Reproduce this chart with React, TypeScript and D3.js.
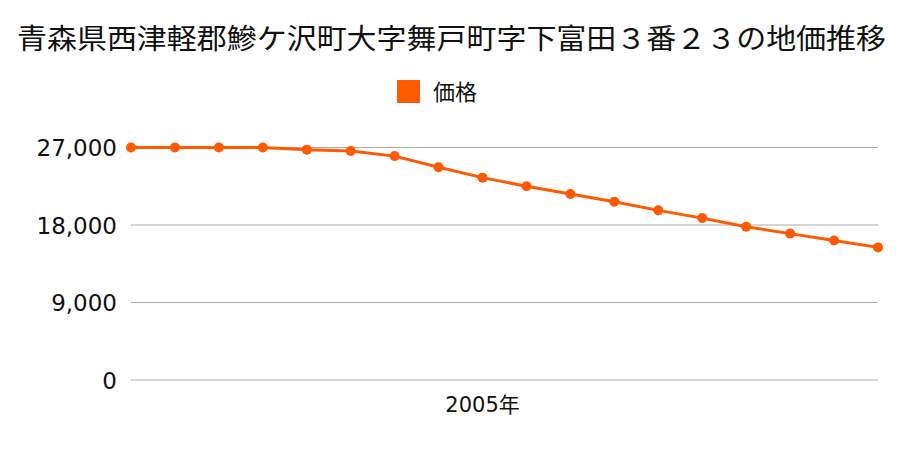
import React from "react";
import * as d3 from "d3";

const title = "青森県西津軽郡鰺ケ沢町大字舞戸町字下富田３番２３の地価推移";
const seriesName = "価格";
const years = [1997, 1998, 1999, 2000, 2001, 2002, 2003, 2004, 2005, 2006, 2007, 2008, 2009, 2010, 2011, 2012, 2013, 2014];
const prices = [27000, 27000, 27000, 27000, 26750, 26600, 26000, 24700, 23500, 22500, 21600, 20700, 19700, 18800, 17800, 17000, 16200, 15400];
const yTicks = [0, 9000, 18000, 27000];
const xLabelYears = [2005];

const W = 900;
const H = 450;
const color = "#ff5a00";
const cjk = "'Noto Sans CJK JP', 'Noto Sans', sans-serif";
const num = "'DejaVu Sans', 'Noto Sans CJK JP', sans-serif";

export default function App() {
  const x = d3.scalePoint<number>().domain(years).range([131, 878]);
  const y = d3.scaleLinear().domain([0, 27000]).range([380, 147.5]);
  const line = d3
    .line<number>()
    .x((_, i) => x(years[i]) as number)
    .y((d) => y(d));
  const fmt = d3.format(",");

  return (
    <svg
      width={W}
      height={H}
      style={{ position: "absolute", left: 0, top: 0, background: "#fff" }}
    >
      <text
        x={17}
        y={49}
        fontSize={28}
        fontFamily={cjk}
        fill="#111"
        textLength={869}
        lengthAdjust="spacingAndGlyphs"
      >
        {title}
      </text>
      <rect x={397} y={80} width={23} height={23} fill={color} />
      <text x={433} y={100} fontSize={22} fontFamily={cjk} fill="#111">
        {seriesName}
      </text>
      {yTicks.map((t) => (
        <g key={t}>
          <line x1={131} x2={878} y1={y(t)} y2={y(t)} stroke="#aaaaaa" strokeWidth={1} />
          <text x={117} y={y(t) + 8.5} textAnchor="end" fontSize={23} fontFamily={num} fill="#111">
            {fmt(t)}
          </text>
        </g>
      ))}
      {xLabelYears.map((yr) => (
        <text key={yr} x={x(yr)} y={412} textAnchor="middle" fontSize={21} fontFamily={num} fill="#111">
          {yr}年
        </text>
      ))}
      <path d={line(prices) || ""} fill="none" stroke={color} strokeWidth={3} />
      {prices.map((p, i) => (
        <circle key={i} cx={x(years[i])} cy={y(p)} r={5} fill={color} />
      ))}
    </svg>
  );
}
